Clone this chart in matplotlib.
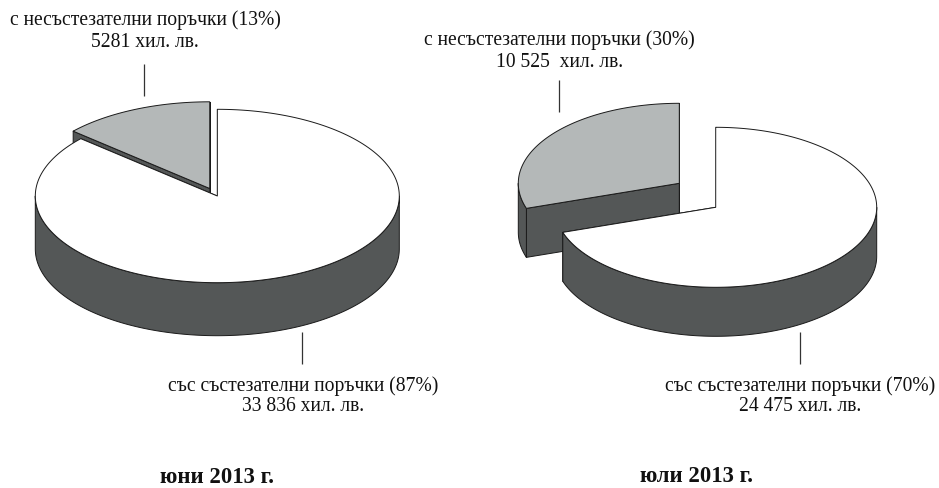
import numpy as np
import matplotlib
matplotlib.use("Agg")
import matplotlib.pyplot as plt
from matplotlib.patches import Polygon

# values, thousand leva
months = ["юни 2013 г.", "юли 2013 г."]
non_competitive = [5281, 10525]
competitive = [33836, 24475]
non_comp_labels = [["с несъстезателни поръчки (13%)", "5281 хил. лв."],
                   ["с несъстезателни поръчки (30%)", "10 525  хил. лв."]]
comp_labels = [["със състезателни поръчки (87%)", "33 836 хил. лв."],
               ["със състезателни поръчки (70%)", "24 475 хил. лв."]]

DARK = "#545757"
GRAY = "#b4b8b8"
EDGE = "#1a1a1a"

plt.rcParams["font.family"] = ["Liberation Serif", "DejaVu Serif"]

fig = plt.figure(figsize=(9.39, 4.88), dpi=100)
ax = fig.add_axes([0, 0, 1, 1])
ax.set_xlim(0, 939)
ax.set_ylim(488, 0)
ax.axis("off")


def arc(cx, cy, rx, ry, a0, a1):
    # angles in degrees, clockwise from 12 o'clock
    t = np.radians(np.linspace(a0, a1, 200))
    return np.column_stack([cx + rx * np.sin(t), cy - ry * np.cos(t)])


def poly(pts, color, z):
    ax.add_patch(Polygon(pts, closed=True, facecolor=color, edgecolor=EDGE,
                         linewidth=0.7, joinstyle="round", zorder=z))


def slice3d(cx, cy, rx, ry, depth, a0, a1, color, z):
    # a0 < a1, cut faces first, then outer wall, then the top
    down = np.array([0, depth])
    apex = np.array([[cx, cy]])
    for a in (a0, a1):
        edge = arc(cx, cy, rx, ry, a, a)[:1]
        poly(np.vstack([apex, edge, edge + down, apex + down]), DARK, z)
    lo, hi = max(a0, 90), min(a1, 270)
    if hi > lo:
        wall = arc(cx, cy, rx, ry, lo, hi)
        poly(np.vstack([wall, (wall + down)[::-1]]), DARK, z + 0.1)
    top = arc(cx, cy, rx, ry, a0, a1)
    poly(np.vstack([apex, top]), color, z + 0.2)


# geometry: (big cx, cy, rx, ry, depth), (small cx, cy)
pies = [((217.3, 196, 182, 86.7, 53), (209.7, 188.5)),
        ((715.7, 207.3, 161, 80, 49), (679.3, 183.3))]
for i, (big, small) in enumerate(pies):
    ang = 360 * non_competitive[i] / (non_competitive[i] + competitive[i])
    cx, cy, rx, ry, depth = big
    slice3d(small[0], small[1], rx, ry, depth, 360 - ang, 360, GRAY, 1)
    slice3d(cx, cy, rx, ry, depth, 0, 360 - ang, "white", 2)

# leader lines
for x, y0, y1 in [(144.3, 64, 96), (302, 332, 364), (558.8, 80, 112), (800, 332, 364)]:
    ax.plot([x, x], [y0, y1], color="#333333", lw=0.9, solid_capstyle="butt", zorder=3)

label_pos = [[(145, 25), (145, 47)], [(559.5, 45.5), (559.5, 67)]]
label_pos2 = [[(303.5, 390.5), (303.5, 411)], [(800.5, 390.5), (800.5, 411)]]
for i in range(2):
    for txt, (x, y) in zip(non_comp_labels[i], label_pos[i]):
        ax.text(x, y, txt, ha="center", va="baseline", fontsize=14.1, color="#111111")
    for txt, (x, y) in zip(comp_labels[i], label_pos2[i]):
        ax.text(x, y, txt, ha="center", va="baseline", fontsize=14.1, color="#111111")

ax.text(217.5, 483, months[0], ha="center", va="baseline", fontsize=16.4, fontweight="bold", color="#111111")
ax.text(696, 482, months[1], ha="center", va="baseline", fontsize=16.4, fontweight="bold", color="#111111")

fig.savefig("out.png", dpi=100)
